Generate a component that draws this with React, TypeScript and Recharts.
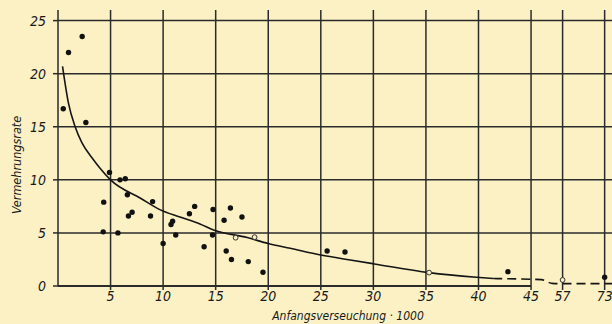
import {
  ComposedChart,
  Line,
  Scatter,
  XAxis,
  YAxis,
  CartesianGrid,
  ReferenceLine,
} from "recharts";

// Einzelbefunde (gefüllte Punkte)
const dotsX = [
  0.5, 1.0, 2.3, 2.65, 4.35, 4.3, 5.7, 4.9, 5.9, 6.4, 6.6, 6.7, 7.05, 8.8, 9.0,
  10.0, 10.75, 10.9, 11.2, 12.5, 13.0, 13.9, 14.7, 14.75, 15.8, 16.4, 17.5,
  16.0, 16.5, 18.1, 19.5, 25.6, 27.3, 42.8, 73,
];
const dotsY = [
  16.7, 22.0, 23.5, 15.4, 7.9, 5.1, 5.0, 10.7, 10.0, 10.1, 8.6, 6.6, 6.95, 6.6,
  7.95, 4.0, 5.8, 6.1, 4.8, 6.8, 7.5, 3.7, 4.8, 7.2, 6.2, 7.35, 6.5, 3.3, 2.5,
  2.3, 1.3, 3.3, 3.2, 1.35, 0.82,
];

// offene Kreise
const openX = [16.9, 18.7, 35.3, 57];
const openY = [4.55, 4.6, 1.26, 0.57];

// ausgeglichene Kurve
const curveX = [
  0.43, 1.0, 1.63, 2.27, 3.37, 4.0, 5.0, 7.85, 9.74, 11.6, 13.5, 14.8, 18.0,
  20.0, 22.1, 25.0, 27.8, 30.1, 35.3, 39.8, 41.4,
];
const curveY = [
  20.7, 17.2, 15.0, 13.5, 11.9, 11.1, 10.0, 8.27, 7.17, 6.5, 5.85, 5.28, 4.56,
  4.0, 3.55, 2.92, 2.45, 2.08, 1.26, 0.82, 0.7,
];

// gestrichelte Fortsetzung
const tailX = [41.4, 49, 53, 57, 76];
const tailY = [0.7, 0.6, 0.25, 0.22, 0.22];

const xTicks = [5, 10, 15, 20, 25, 30, 35, 40, 45, 57, 73];
const yTicks = [0, 5, 10, 15, 20, 25];

// Abszisse nach 45 unterbrochen, Rest im Maßstab 1:4
const BREAK = 45;
const toAxis = (v: number) => (v <= BREAK ? v : BREAK + (v - BREAK) / 4);
const fromAxis = (v: number) => (v <= BREAK ? v : BREAK + (v - BREAK) * 4);

const zip = (xs: number[], ys: number[]) =>
  xs.map((x, i) => ({ x: toAxis(x), y: ys[i] }));

const dots = zip(dotsX, dotsY);
const open = zip(openX, openY);
const curve = zip(curveX, curveY);
const tail = zip(tailX, tailY);

const PAPER = "#fbf1c4";
const INK = "#2b2b2b";
const FONT = "'DejaVu Sans Condensed', 'Liberation Sans Narrow', 'DejaVu Sans', sans-serif";

const tickStyle = {
  fill: "#1a1a1a",
  fontSize: 14,
  fontStyle: "italic",
  fontFamily: FONT,
};

export default function App() {
  return (
    <div
      style={{
        position: "fixed",
        left: 0,
        top: 0,
        width: 612,
        height: 324,
        background: PAPER,
      }}
    >
      <ComposedChart
        width={612}
        height={324}
        margin={{ top: 10, right: 0, left: 0, bottom: 8 }}
      >
        <CartesianGrid
          stroke={INK}
          strokeWidth={1.5}
          horizontalValues={[5, 10, 15, 20, 25]}
          verticalValues={xTicks.map(toAxis)}
        />
        <XAxis
          type="number"
          dataKey="x"
          domain={[0, 52.7]}
          ticks={xTicks.map(toAxis)}
          tickFormatter={(v: number) => String(Math.round(fromAxis(v)))}
          allowDataOverflow
          axisLine={false}
          tickLine={{ stroke: INK, strokeWidth: 1.5 }}
          tickSize={4}
          tickMargin={1}
          height={30}
          tick={tickStyle}
          label={{
            content: () => (
              <text
                x={348}
                y={320}
                textAnchor="middle"
                fontSize={12}
                fontStyle="italic"
                fontFamily={FONT}
                fill="#1a1a1a"
              >
                Anfangsverseuchung · 1000
              </text>
            ),
          }}
        />
        <YAxis
          type="number"
          domain={[0, 26]}
          ticks={yTicks}
          width={58}
          axisLine={{ stroke: INK, strokeWidth: 1.5 }}
          tickLine={{ stroke: INK, strokeWidth: 1.5 }}
          tickSize={5}
          tickMargin={7}
          tick={tickStyle}
          label={{
            content: () => (
              <text
                x={21}
                y={165}
                transform="rotate(-90 21 165)"
                textAnchor="middle"
                fontSize={12.5}
                fontStyle="italic"
                fontFamily={FONT}
                fill="#1a1a1a"
              >
                Vermehrungsrate
              </text>
            ),
          }}
        />
        <ReferenceLine
          segment={[
            { x: 0, y: 0 },
            { x: 45, y: 0 },
          ]}
          stroke={INK}
          strokeWidth={1.8}
          ifOverflow="visible"
        />
        <Line
          data={curve}
          dataKey="y"
          type="monotone"
          stroke="#151515"
          strokeWidth={1.6}
          dot={false}
          isAnimationActive={false}
        />
        <Line
          data={tail}
          dataKey="y"
          type="monotone"
          stroke="#151515"
          strokeWidth={1.6}
          strokeDasharray="9 5"
          dot={false}
          isAnimationActive={false}
        />
        <Scatter
          data={dots}
          dataKey="y"
          isAnimationActive={false}
          shape={(p: any) => <circle cx={p.cx} cy={p.cy} r={2.7} fill="#111" />}
        />
        <Scatter
          data={open}
          dataKey="y"
          isAnimationActive={false}
          shape={(p: any) => (
            <circle cx={p.cx} cy={p.cy} r={2.4} fill={PAPER} stroke="#333" strokeWidth={1} />
          )}
        />
      </ComposedChart>
    </div>
  );
}
